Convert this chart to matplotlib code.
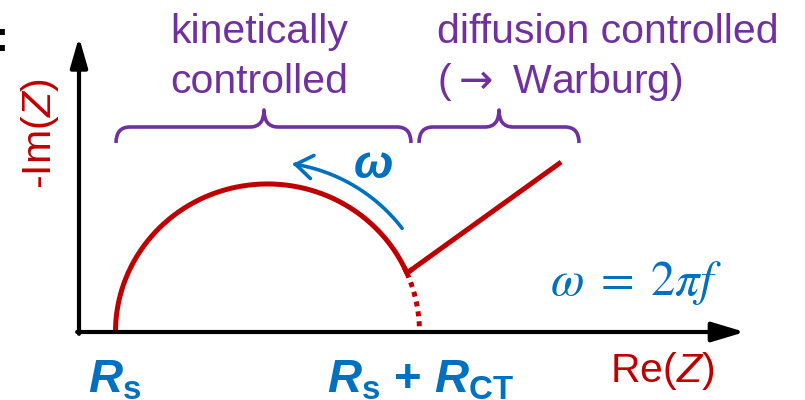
import numpy as np
import matplotlib
matplotlib.use("Agg")
import matplotlib.pyplot as plt
from matplotlib.path import Path
from matplotlib.patches import PathPatch, FancyArrowPatch
import matplotlib.transforms as mtransforms

plt.rcParams['font.family'] = ['Liberation Sans', 'DejaVu Sans']
plt.rcParams['mathtext.fontset'] = 'custom'
plt.rcParams['mathtext.rm'] = 'Liberation Sans'
plt.rcParams['mathtext.sf'] = 'Liberation Sans:italic'
plt.rcParams['mathtext.it'] = 'Liberation Sans:italic:bold'
plt.rcParams['mathtext.bf'] = 'Liberation Sans:bold'

RED = '#C00000'
BLUE = '#0070C0'
PURPLE = '#7030A0'

# ---- data (arbitrary Ohm units) ----
Rs = 12.0            # series resistance
Rct = 100.0          # charge-transfer resistance
arc_height = 48.7    # top of the semicircle (-Im Z)
kink_im = 19.4       # -Im Z where the Warburg line starts
warburg_end = [158.6, 55.9]   # (Re Z, -Im Z) end of Warburg line
omega_arc_radius = 55.9
omega_arc_angles = [37.6, 81.5]   # degrees, direction of increasing omega
x_axis_end = 219.0
y_axis_end = 97.0

fig = plt.figure(figsize=(8.05, 4.0), dpi=100)
s = 3.04
ax = fig.add_axes([0, 0, 1, 1])
ax.set_xlim(-79 / s, 726 / s)
ax.set_ylim(-68 / s, 332 / s)
ax.axis('off')
pix = mtransforms.Affine2D().scale(1 / 805, -1 / 400).translate(0, 1) + fig.transFigure

# axes arrows
ax.annotate('', xy=(x_axis_end, 0), xytext=(-0.6, 0),
            arrowprops=dict(arrowstyle='-|>,head_length=1.0,head_width=0.3',
                            lw=3, color='black', mutation_scale=20,
                            shrinkA=0, shrinkB=0))
ax.annotate('', xy=(0, y_axis_end), xytext=(0, -0.6),
            arrowprops=dict(arrowstyle='-|>,head_length=0.9,head_width=0.26',
                            lw=3, color='black', mutation_scale=20,
                            shrinkA=0, shrinkB=0))

# semicircle
xc = Rs + Rct / 2
rx = Rct / 2
th_k = np.degrees(np.arcsin(kink_im / arc_height))
th_solid = np.radians(np.linspace(180, th_k, 200))
th_dot = np.radians(np.linspace(th_k, 0, 50))
ax.plot(xc + rx * np.cos(th_solid), arc_height * np.sin(th_solid),
        color=RED, lw=3.6, solid_capstyle='butt', solid_joinstyle='round')
ax.plot(xc + rx * np.cos(th_dot), arc_height * np.sin(th_dot),
        color=RED, lw=3.6, linestyle=(0, (1, 1)), dash_capstyle='butt')
kx = xc + rx * np.cos(np.radians(th_k))
ky = arc_height * np.sin(np.radians(th_k))
wx = [kx, warburg_end[0]]
wy = [ky, warburg_end[1]]
ax.plot(wx, wy, color=RED, lw=3.6, solid_capstyle='butt')
ax.plot([xc + rx * np.cos(np.radians(th_k + 1.5)), kx, kx + 1.2],
        [arc_height * np.sin(np.radians(th_k + 1.5)), ky,
         ky + 1.2 * (wy[1] - wy[0]) / (wx[1] - wx[0])],
        color=RED, lw=3.6, solid_joinstyle='round')

# omega arrow
ta = np.radians(np.linspace(omega_arc_angles[0], omega_arc_angles[1], 60))
verts = np.column_stack([xc + omega_arc_radius * np.cos(ta),
                         omega_arc_radius * np.sin(ta)])
arr = FancyArrowPatch(path=Path(verts), arrowstyle='->,head_length=0.6,head_width=0.42',
                      mutation_scale=20, lw=2.6, color=BLUE)
ax.add_patch(arr)
ax.text(373, 178, '\u03c9', transform=pix, color=BLUE, fontsize=34,
        fontweight='bold', fontstyle='italic', ha='center', va='baseline')


# braces
def brace(x0, x1, xp, yb=143, ym=127, yp=110, r=14):
    v = [(x0, yb), (x0, ym), (x0 + r, ym), (xp - r, ym), (xp, ym), (xp, yp),
         (xp, ym), (xp + r, ym), (x1 - r, ym), (x1, ym), (x1, yb)]
    c = [Path.MOVETO, Path.CURVE3, Path.CURVE3, Path.LINETO, Path.CURVE3, Path.CURVE3,
         Path.CURVE3, Path.CURVE3, Path.LINETO, Path.CURVE3, Path.CURVE3]
    return PathPatch(Path(v, c), transform=pix, fill=False, edgecolor=PURPLE,
                     lw=2.6, capstyle='butt', joinstyle='round')


ax.add_patch(brace(116, 411, 264))
ax.add_patch(brace(419, 579, 499))

fs = 29.5
ax.text(170, 43, 'kinetically', transform=pix, color=PURPLE, fontsize=fs, va='baseline')
ax.text(170, 93, 'controlled', transform=pix, color=PURPLE, fontsize=fs, va='baseline')
ax.text(437, 43, 'diffusion controlled', transform=pix, color=PURPLE, fontsize=fs, va='baseline')
ax.text(437, 93, r'($\rightarrow$ Warburg)', transform=pix, color=PURPLE, fontsize=fs,
        va='baseline', math_fontfamily='dejavusans')

# axis labels
ax.text(40, 133, r'-Im($\mathsf{Z}$)', transform=pix, color=RED, fontsize=fs,
        rotation=90, ha='center', va='center')
ax.text(610, 382, r'Re($\mathsf{Z}$)', transform=pix, color=RED, fontsize=fs,
        ha='left', va='baseline')

ax.text(550, 295, r'$\omega\;=\;2\pi f$', transform=pix, color=BLUE, fontsize=35,
        math_fontfamily='stix', ha='left', va='baseline')

# R labels
ax.text(88, 392, r'$R_\mathbf{s}$', transform=pix, color=BLUE, fontsize=34,
        ha='left', va='baseline')
ax.text(327, 392, r'$R_\mathbf{s}$ + $R_\mathbf{CT}$', transform=pix, color=BLUE,
        fontsize=34, fontweight='bold', ha='left', va='baseline')

# clipped colon at left edge
ax.text(9, 51, ':', transform=pix, color='black', fontsize=30, fontweight='bold',
        ha='right', va='baseline')

fig.savefig('out.png', dpi=100)
